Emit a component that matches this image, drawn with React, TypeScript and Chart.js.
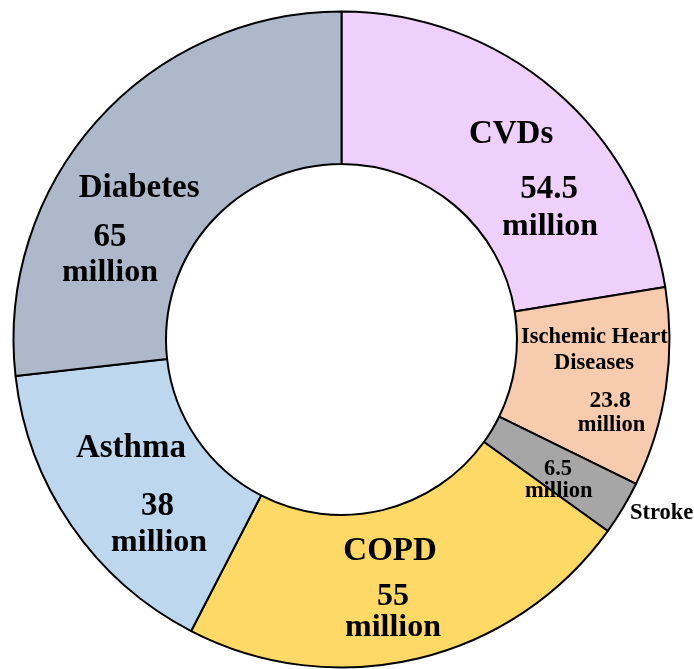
import React, { useEffect, useRef } from "react";
import { Chart, registerables } from "chart.js";

Chart.register(...registerables);

// ---- data ----
const categories = ["CVDs", "Ischemic Heart Diseases", "Stroke", "COPD", "Asthma", "Diabetes"];
const values = [54.5, 23.8, 6.5, 55, 38, 65];
const valueLabels = ["54.5", "23.8", "6.5", "55", "38", "65"];
const unitLabel = "million";

// ---- styles ----
const colors = ["#EFD0FC", "#F7CBAE", "#A6A6A6", "#FFD966", "#BDD7EE", "#ADB9CA"];

// label layout: position relative to chart centre, as fraction of outer radius
type Lbl = { text: string; dx: number; dy: number; size: number };
const labelLayout: Lbl[] = [
  { text: categories[0], dx: 0.517, dy: -0.625, size: 33 },
  { text: valueLabels[0], dx: 0.633, dy: -0.458, size: 33 },
  { text: unitLabel, dx: 0.636, dy: -0.343, size: 32 },
  { text: categories[5], dx: -0.617, dy: -0.46, size: 33 },
  { text: valueLabels[5], dx: -0.706, dy: -0.312, size: 33 },
  { text: unitLabel, dx: -0.706, dy: -0.203, size: 32 },
  { text: categories[4], dx: -0.642, dy: 0.333, size: 33 },
  { text: valueLabels[4], dx: -0.561, dy: 0.509, size: 33 },
  { text: unitLabel, dx: -0.556, dy: 0.62, size: 32 },
  { text: categories[3], dx: 0.148, dy: 0.647, size: 33 },
  { text: valueLabels[3], dx: 0.157, dy: 0.783, size: 32 },
  { text: unitLabel, dx: 0.157, dy: 0.88, size: 32 },
  { text: "Ischemic Heart", dx: 0.771, dy: -0.008, size: 22.5 },
  { text: "Diseases", dx: 0.77, dy: 0.072, size: 22.5 },
  { text: valueLabels[1], dx: 0.819, dy: 0.187, size: 23.5 },
  { text: unitLabel, dx: 0.823, dy: 0.261, size: 22.5 },
  { text: valueLabels[2], dx: 0.66, dy: 0.395, size: 22.5 },
  { text: unitLabel, dx: 0.662, dy: 0.462, size: 22.5 },
  { text: categories[2], dx: 0.976, dy: 0.529, size: 22.5 },
];

const labelPlugin = {
  id: "segmentLabels",
  afterDatasetsDraw(chart: any) {
    const meta = chart.getDatasetMeta(0);
    const arc = meta.data[0];
    if (!arc) return;
    const cx = arc.x;
    const cy = arc.y;
    const R = arc.outerRadius;
    const ctx = chart.ctx;
    ctx.save();
    ctx.fillStyle = "#000";
    ctx.textAlign = "center";
    ctx.textBaseline = "middle";
    for (const l of labelLayout) {
      ctx.font = `bold ${l.size}px "Liberation Serif", "Times New Roman", serif`;
      ctx.fillText(l.text, cx + l.dx * R, cy + l.dy * R);
    }
    ctx.restore();
  },
};

export default function App() {
  const ref = useRef<HTMLCanvasElement | null>(null);
  useEffect(() => {
    if (!ref.current) return;
    const chart = new Chart(ref.current, {
      type: "doughnut",
      data: {
        labels: categories,
        datasets: [
          {
            data: values,
            backgroundColor: colors,
            borderColor: "#000",
            borderWidth: 2,
          },
        ],
      },
      options: {
        responsive: false,
        animation: false,
        cutout: "53.5%",
        layout: { padding: { left: 12.5, right: 23.5, top: 10.5, bottom: 0.5 } },
        plugins: {
          legend: { display: false },
          tooltip: { enabled: false },
        },
      },
      plugins: [labelPlugin],
    });
    return () => chart.destroy();
  }, []);
  return (
    <div style={{ position: "fixed", left: 0, top: 0, width: 694, height: 669, background: "#fff" }}>
      <canvas ref={ref} width={694} height={669} />
    </div>
  );
}
